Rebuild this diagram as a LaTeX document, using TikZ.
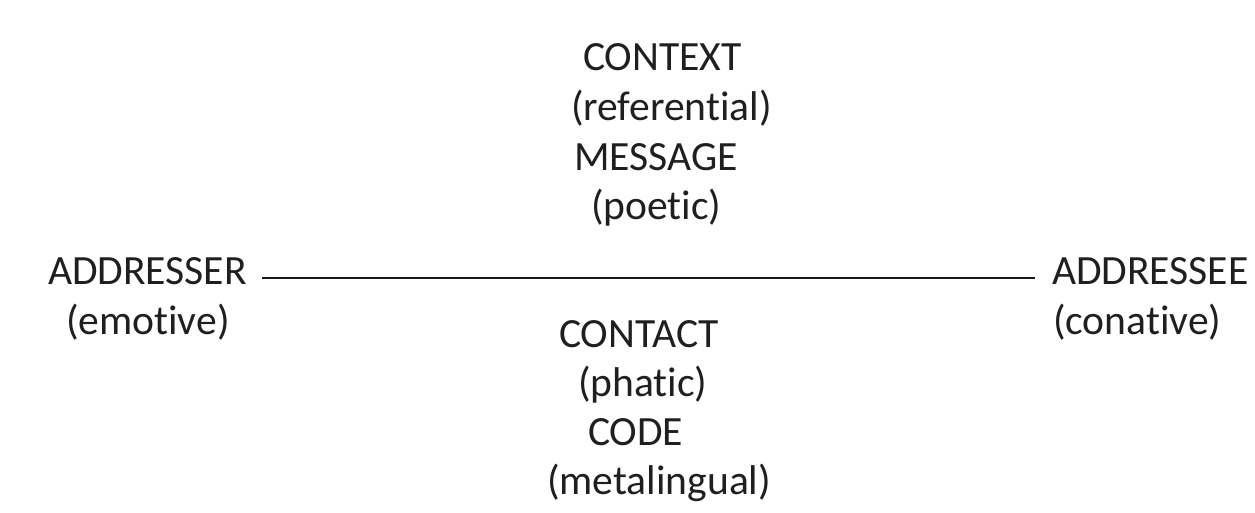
\documentclass[tikz,border=0pt]{standalone}
\usepackage{fontspec}
\setmainfont[Ligatures={NoCommon},RawFeature={-liga}]{Carlito}
\usetikzlibrary{calc}
\begin{document}
\begin{tikzpicture}[x=0.75pt,y=-0.75pt,
  lbl/.style={anchor=base west,inner sep=0pt,outer sep=0pt,font=\fontsize{31.2pt}{36pt}\selectfont,text=black!88},
  link/.style={line width=1.5pt,draw=black!90}]
\useasboundingbox (0,0) rectangle (1255,512);
\node[lbl] (context) at (583,70) {CONTEXT};
\node[lbl] (referential) at (571,120) {(referential)};
\node[lbl] (message) at (574,170) {MESSAGE};
\node[lbl] (poetic) at (591,219) {(poetic)};
\node[lbl] (addresser) at (48,284) {ADDRESSER};
\node[lbl] (emotive) at (66,334) {(emotive)};
\node[lbl] (addressee) at (1052,284) {ADDRESSEE};
\node[lbl] (conative) at (1053,334) {(conative)};
\node[lbl] (contact) at (559,347) {CONTACT};
\node[lbl] (phatic) at (578,396) {(phatic)};
\node[lbl] (code) at (588,445) {CODE};
\node[lbl] (metalingual) at (547,494) {(metalingual)};
\draw[link] ($(addresser.base east)+(15,-6)$) -- ($(addressee.base west)+(-17,-6)$);
\end{tikzpicture}
\end{document}
